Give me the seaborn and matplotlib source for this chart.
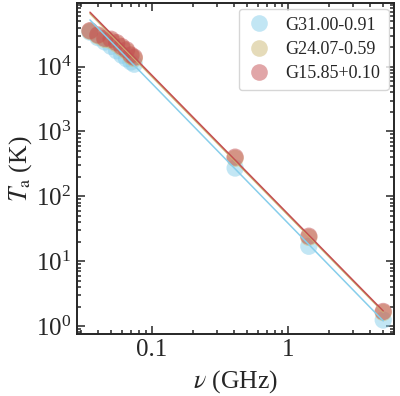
import numpy as np
import pandas as pd
import matplotlib
matplotlib.use("Agg")
import matplotlib.pyplot as plt
import seaborn as sns

# frequencies (GHz)
freq = [0.035, 0.040, 0.045, 0.050, 0.055, 0.060, 0.065, 0.070, 0.074, 0.408, 1.42, 5.0]

# antenna temperature (K) per source
t_g31 = [34000, 28000, 24000, 20500, 17500, 15000, 13200, 11800, 10900, 273, 17.0, 1.24]
t_g24 = [35000, 29800, 26200, 25000, 22300, 19300, 17200, 14400, 13300, 385, 23.3, 1.62]
t_g15 = [35800, 30800, 27300, 26400, 23400, 20300, 18100, 15100, 13950, 402, 24.3, 1.68]

sources = ["G31.00-0.91", "G24.07-0.59", "G15.85+0.10"]
colors = ["#87ceeb", "#ccb974", "#c44e52"]

# power law fitted above this frequency, drawn over the full range
fit_min = 0.065

df = pd.DataFrame({
    "nu": freq * 3,
    "T": t_g31 + t_g24 + t_g15,
    "source": [sources[0]] * len(freq) + [sources[1]] * len(freq) + [sources[2]] * len(freq),
})

sns.set_style("ticks")
plt.rcParams["font.family"] = ["Liberation Serif", "DejaVu Serif"]
plt.rcParams["mathtext.fontset"] = "stix"

fig = plt.figure(figsize=(4, 3.96), dpi=100)
ax = fig.add_axes([0.192, 0.157, 0.793, 0.835])

sns.scatterplot(
    data=df, x="nu", y="T", hue="source", palette=colors,
    s=155, alpha=0.5, edgecolor="none", ax=ax, legend=False, zorder=2
)

# power-law fits
for name, c in zip(sources, colors):
    sub = df[df["source"] == name]
    fs = sub[sub["nu"] >= fit_min]
    p = np.polyfit(np.log10(fs["nu"]), np.log10(fs["T"]), 1)
    xx = np.array([sub["nu"].min(), sub["nu"].max()])
    ax.plot(xx, 10 ** np.polyval(p, np.log10(xx)), color=c, lw=1.1, zorder=3)

ax.set_xscale("log")
ax.set_yscale("log")
ax.set_xlim(0.028, 6.0)
ax.set_ylim(0.76, 9.5e4)
ax.set_xticks([0.1, 1])
ax.set_xticklabels(["0.1", "1"])

ax.tick_params(which="both", direction="in", top=True, right=True, labelsize=18, width=1.1)
ax.tick_params(which="major", length=6, pad=4)
ax.tick_params(which="minor", length=3)
for sp in ax.spines.values():
    sp.set_linewidth(1.4)

ax.set_xlabel(r"$\nu$ (GHz)", fontsize=18.5, labelpad=5)
ax.set_ylabel(r"$T_{\rm a}$ (K)", fontsize=18.5, labelpad=1)

handles = [
    plt.Line2D([], [], marker="o", ls="none", ms=12, color=c, alpha=0.5, mec="none")
    for c in colors
]
ax.legend(handles, sources, loc="upper right", fontsize=13, frameon=True,
          fancybox=True, edgecolor="#cccccc", handlelength=1.3, handletextpad=0.85,
          borderpad=0.45, labelspacing=0.4, borderaxespad=0.3)

fig.savefig("out.png", dpi=100)
